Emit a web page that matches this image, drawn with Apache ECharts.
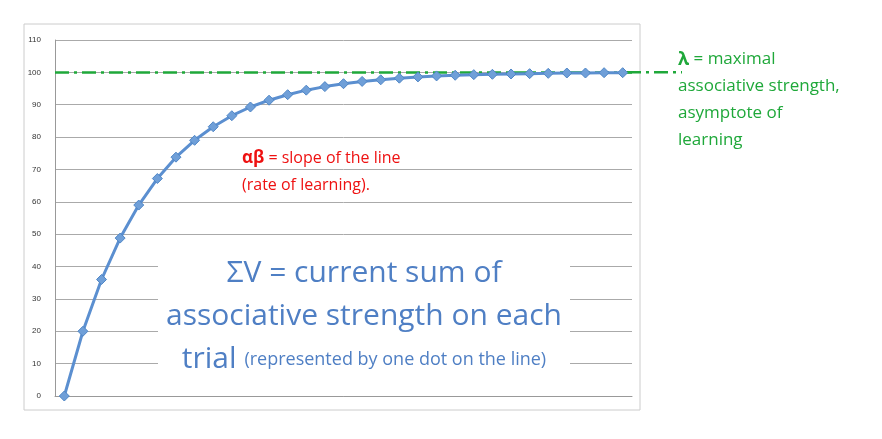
<!DOCTYPE html><html><head><meta charset="utf-8">
<script src="https://cdn.jsdelivr.net/npm/echarts@6/dist/echarts.min.js"></script>
<style>html,body{margin:0;background:#fff}#c{width:882px;height:439px}</style></head><body><div id="c"></div>
<script>
const trials = Array.from({length:31},(_,i)=>String(i+1));
const strength = [0,20,36,48.8,59,67.2,73.8,79,83.2,86.6,89.3,91.4,93.1,94.5,95.6,96.5,97.2,97.7,98.2,98.6,98.9,99.1,99.3,99.4,99.5,99.6,99.7,99.8,99.8,99.9,99.9];
const asymptote = 100;
const yTicks = {min:0,max:110,interval:10};
const chart = echarts.init(document.getElementById('c'));
const F = 'Open Sans, Noto Sans, sans-serif';
chart.setOption({
  animation:false,
  grid:{left:55,right:250,top:40,bottom:43},
  xAxis:{type:'category',data:trials,boundaryGap:true,axisLabel:{show:false},axisTick:{show:false},axisLine:{lineStyle:{color:'#999'}}},
  yAxis:{type:'value',min:yTicks.min,max:yTicks.max,interval:yTicks.interval,
    axisLine:{show:true,lineStyle:{color:'#999'}},axisTick:{show:false},
    axisLabel:{fontSize:8,color:'#333',margin:14},
    splitLine:{lineStyle:{color:'#aaa',width:1}}},
  series:[{type:'line',data:strength,symbol:'diamond',symbolSize:10,
    lineStyle:{color:'#5b8fd0',width:3},itemStyle:{color:'#6f9fd8',borderColor:'#4f86c6',borderWidth:1},
    z:5,
    markLine:{silent:true,symbol:'none',label:{show:false},
      lineStyle:{color:'#1fa83a',type:[14,5,3,5],width:2.5},
      data:[{yAxis:asymptote}]}}],
  graphic:[
    {id:'frame',type:'rect',shape:{x:24,y:24,width:616,height:386},style:{fill:'none',stroke:'#ccc',lineWidth:1},z:-1},
    {id:'lam',type:'text',x:678,y:46,style:{text:'{b|λ} = maximal\nassociative strength,\nasymptote of\nlearning',
      rich:{b:{fontWeight:'bold',fontSize:18,fill:'#1fa83a',fontFamily:F}},
      fill:'#1fa83a',font:'17px '+F,lineHeight:27}},
    {id:'ab',type:'text',x:236,y:141,style:{text:'{b|αβ} = slope of the line\n(rate of learning).',
      rich:{b:{fontWeight:'bold',fontSize:17,fill:'#ee1111',fontFamily:F}},
      fill:'#ee1111',font:'16px '+F,lineHeight:27,backgroundColor:'#fff',padding:[4,6]}},
    {id:'sv',type:'text',x:364,y:250,style:{text:'ΣV = current sum of\nassociative strength on each\ntrial {s|(represented by one dot on the line)}',
      rich:{s:{fontSize:18,fill:'#4f7fc4',fontFamily:F}},
      align:'center',fill:'#4f7fc4',font:'30px '+F,lineHeight:43,backgroundColor:'#fff',padding:[2,8]},z:10}
  ]
});
const y = chart.convertToPixel({yAxisIndex:0},asymptote);
chart.setOption({graphic:[{id:'ext',type:'line',shape:{x1:627,y1:y,x2:682,y2:y},style:{stroke:'#1fa83a',lineWidth:2.5,lineDash:[14,5,3,5]}}]});
</script></body></html>
